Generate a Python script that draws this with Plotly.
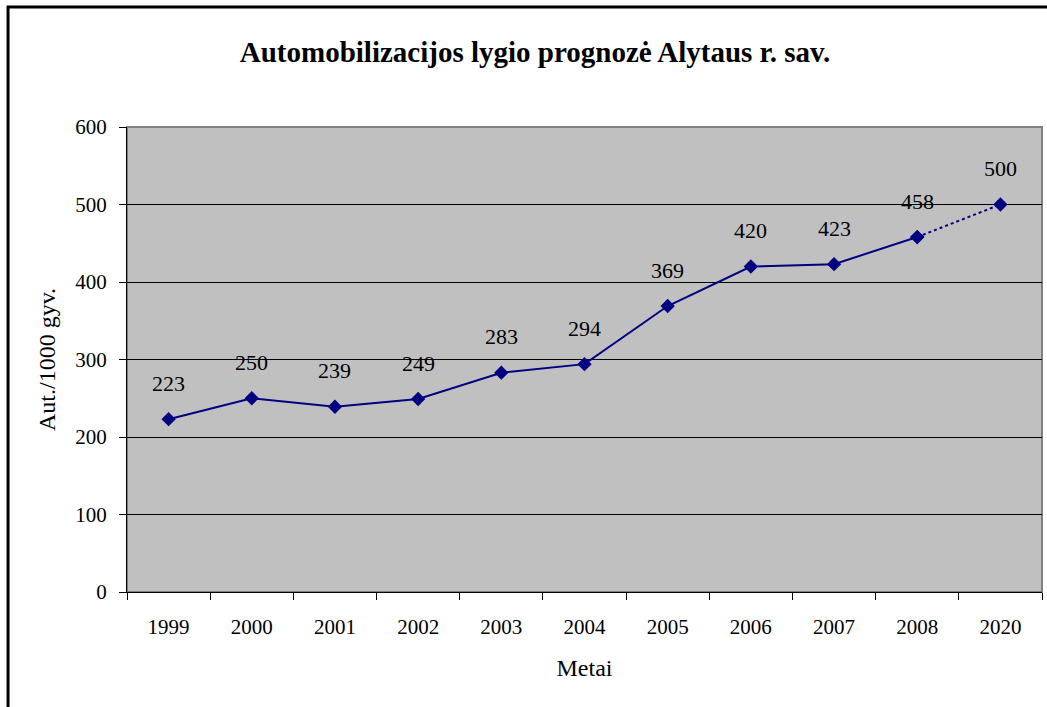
import plotly.graph_objects as go

years = ["1999", "2000", "2001", "2002", "2003", "2004", "2005", "2006", "2007", "2008", "2020"]
values = [223, 250, 239, 249, 283, 294, 369, 420, 423, 458, 500]
y_ticks = [0, 100, 200, 300, 400, 500, 600]

NAVY = "#000080"
FONT = "Liberation Serif, Times New Roman, serif"

fig = go.Figure()

# Observed years: solid line
fig.add_trace(
    go.Scatter(
        x=years[:-1],
        y=values[:-1],
        mode="lines+markers",
        line={"color": NAVY, "width": 2},
        marker={"symbol": "diamond", "size": 11, "color": NAVY},
        showlegend=False,
    )
)

# Forecast: dotted segment to 2020
fig.add_trace(
    go.Scatter(
        x=years[-2:],
        y=values[-2:],
        mode="lines+markers",
        line={"color": NAVY, "width": 2, "dash": "dot"},
        marker={"symbol": "diamond", "size": 11, "color": NAVY},
        showlegend=False,
    )
)

# Data labels above each point (x as category index)
for i, v in enumerate(values):
    fig.add_annotation(
        x=i, y=v, xref="x", yref="y", text=str(v), showarrow=False, yshift=36,
        font={"family": FONT, "size": 22, "color": "black"},
    )

# Plot area frame (grey) and outer chart border
fig.add_shape(
    type="rect", xref="x domain", yref="y domain", x0=0, x1=1, y0=0, y1=1,
    line={"color": "#808080", "width": 2}, layer="below",
)
fig.add_shape(
    type="rect", xref="paper", yref="paper",
    x0=-0.130, x1=1.2, y0=-0.5, y1=1.258,
    line={"color": "black", "width": 3},
)

fig.update_layout(
    width=1047,
    height=707,
    margin={"l": 127, "r": 5, "t": 127, "b": 115},
    paper_bgcolor="white",
    plot_bgcolor="#C0C0C0",
    font={"family": FONT, "size": 21, "color": "black"},
    title={
        "text": "<b>Automobilizacijos lygio prognozė Alytaus r. sav.</b>",
        "x": 0.511,
        "xanchor": "center",
        "y": 0.926,
        "yanchor": "middle",
        "font": {"family": FONT, "size": 29, "color": "black"},
    },
    xaxis={
        "type": "category",
        "range": [-0.5, 10.5],
        "tickson": "boundaries",
        "ticks": "outside",
        "ticklen": 7,
        "tickcolor": "black",
        "ticklabelstandoff": 16,
        "showline": True,
        "linecolor": "black",
        "linewidth": 1,
        "showgrid": False,
        "title": {"text": "Metai", "standoff": 20, "font": {"family": FONT, "size": 24}},
        "tickfont": {"family": FONT, "size": 21},
    },
    yaxis={
        "range": [0, 600],
        "tickvals": y_ticks,
        "ticks": "outside",
        "ticklen": 7,
        "tickcolor": "black",
        "ticklabelstandoff": 8,
        "showline": True,
        "linecolor": "black",
        "linewidth": 1,
        "gridcolor": "black",
        "gridwidth": 1,
        "zeroline": False,
        "title": {"text": "Aut./1000 gyv.", "standoff": 12, "font": {"family": FONT, "size": 24}},
        "tickfont": {"family": FONT, "size": 21},
    },
)

fig.write_html(
    "out.html",
    config={"displayModeBar": False},
    post_script="document.body.style.margin='0px';",
)
